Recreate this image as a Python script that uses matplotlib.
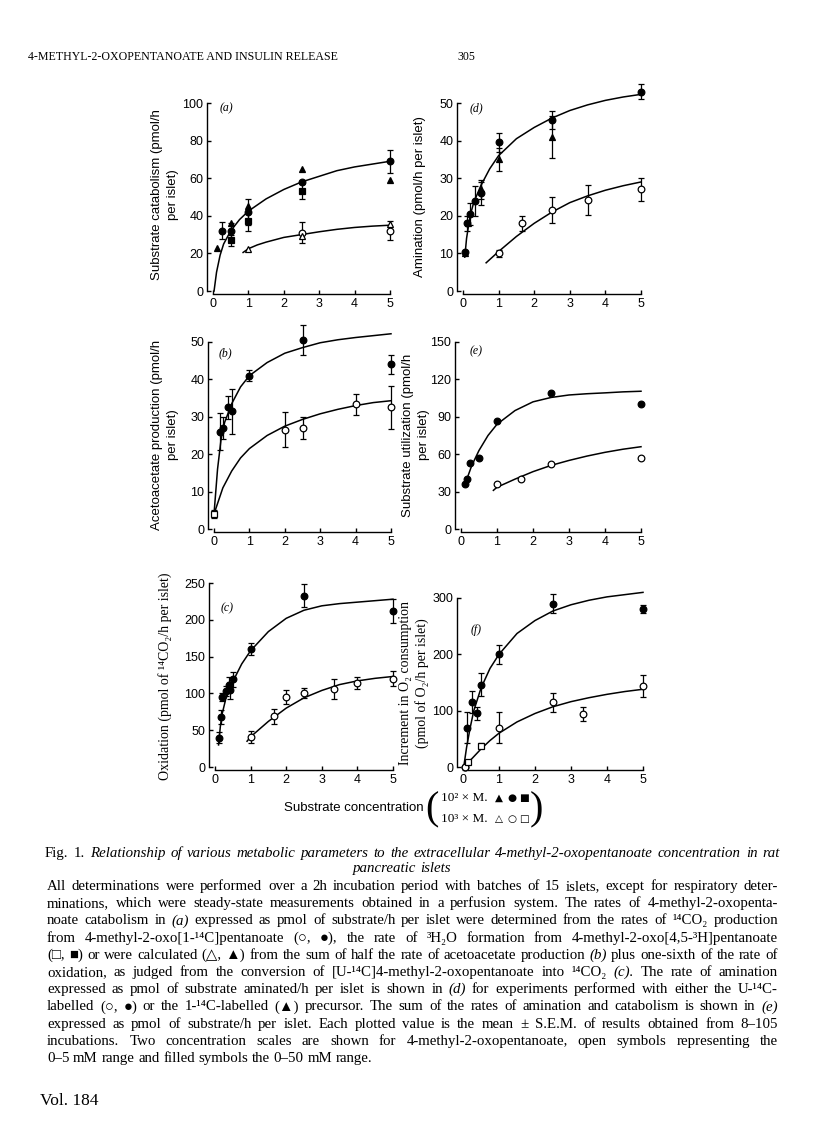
import numpy as np
import matplotlib
matplotlib.use('Agg')
import matplotlib.pyplot as plt

W, H = 816, 1136
SANS = ['Liberation Sans', 'DejaVu Sans']
SERIF = ['Liberation Serif', 'DejaVu Serif', 'DejaVu Sans']
plt.rcParams['font.family'] = SANS

# ---------------- data ----------------
# (a) substrate catabolism
a_fc_x = [0.25, 0.5, 1.0, 2.5, 5.0]
a_fc_y = [32, 32, 42, 58, 69]
a_fc_e = [4.5, 4, 7, 0, 6]
a_ft_x = [0.1, 0.5, 1.0, 2.5, 5.0]
a_ft_y = [23, 36, 45, 65, 59]
a_fs_x = [0.5, 1.0, 2.5]
a_fs_y = [27, 37, 53]
a_fs_e = [3, 5, 4]
a_oc_x = [2.5, 5.0]
a_oc_y = [31, 32]
a_oc_e = [5.5, 5]
a_ot_x = [1.0, 2.5, 5.0]
a_ot_y = [22.5, 29.5, 35.5]
a_cf_x = [0.03, 0.1, 0.2, 0.3, 0.5, 0.75, 1.0, 1.5, 2.0, 2.5, 3.0, 3.5, 4.0, 4.5, 5.0]
a_cf_y = [0, 10, 19, 25, 32, 38, 42.5, 49, 54, 58, 61, 64, 66, 67.5, 69]
a_co_x = [0.85, 1.0, 1.25, 1.5, 2.0, 2.5, 3.0, 3.5, 4.0, 4.5, 5.0]
a_co_y = [20.5, 22.5, 24.5, 26, 28.5, 30, 31.5, 32.8, 33.8, 34.5, 35]

# (d) amination
d_fc_x = [0.05, 0.1, 0.2, 0.33, 0.5, 1.0, 2.5, 5.0]
d_fc_y = [10.5, 18, 20.5, 24, 26, 39.5, 45.5, 53]
d_fc_e = [0, 2, 3, 4, 3, 2.5, 2.5, 2]
d_ft_x = [0.05, 0.15, 0.5, 1.0, 2.5]
d_ft_y = [10, 18, 27, 35, 41]
d_ft_e = [0, 0, 2.5, 3, 5.5]
d_oc_x = [1.0, 1.67, 2.5, 3.5, 5.0]
d_oc_y = [10, 18, 21.5, 24.2, 27]
d_oc_e = [1, 2, 3.5, 4, 3]
d_cf_x = [0.05, 0.1, 0.2, 0.3, 0.5, 0.75, 1.0, 1.5, 2.0, 2.5, 3.0, 3.5, 4.0, 4.5, 5.0]
d_cf_y = [9, 14, 20, 23.5, 28, 32.5, 36, 40.5, 43.5, 46, 48, 49.5, 50.7, 51.6, 52.3]
d_co_x = [0.65, 1.0, 1.5, 2.0, 2.5, 3.0, 3.5, 4.0, 4.5, 5.0]
d_co_y = [7.5, 10.5, 14.5, 18, 21, 23.5, 25.3, 26.8, 28, 29]

# (b) acetoacetate production
b_fc_x = [0.17, 0.25, 0.4, 0.5, 1.0, 2.5, 5.0]
b_fc_y = [26, 27, 32.5, 31.5, 41, 50.5, 44]
b_fc_e = [5, 3, 3, 6, 1.5, 4, 2.5]
b_oc_x = [2.0, 2.5, 4.0, 5.0]
b_oc_y = [26.5, 27, 33.3, 32.5]
b_oc_e = [4.7, 3, 2.8, 5.7]
b_os_x = [0.0]
b_os_y = [4]
b_os_e = [1]
b_cf_x = [0.0, 0.1, 0.2, 0.3, 0.5, 0.75, 1.0, 1.5, 2.0, 2.5, 3.0, 3.5, 4.0, 4.5, 5.0]
b_cf_y = [4, 16, 24, 28.5, 33.5, 38, 41, 44.5, 47, 48.5, 49.8, 50.6, 51.2, 51.7, 52.2]
b_co_x = [0.0, 0.25, 0.5, 0.75, 1.0, 1.5, 2.0, 2.5, 3.0, 3.5, 4.0, 4.5, 5.0]
b_co_y = [4, 11, 15.5, 19, 21.5, 25, 27.5, 29.3, 30.8, 32, 33, 33.8, 34.3]

# (e) substrate utilization
e_fc_x = [0.1, 0.17, 0.25, 0.5, 1.0, 2.5, 5.0]
e_fc_y = [36, 40, 53, 57, 87, 109, 100]
e_oc_x = [1.0, 1.67, 2.5, 5.0]
e_oc_y = [36, 40, 52, 57]
e_cf_x = [0.1, 0.2, 0.3, 0.5, 0.75, 1.0, 1.5, 2.0, 2.5, 3.0, 3.5, 4.0, 4.5, 5.0]
e_cf_y = [35, 43, 51, 63, 75, 84, 95, 102, 105.5, 107.5, 108.5, 109.2, 110, 110.5]
e_co_x = [0.9, 1.0, 1.5, 2.0, 2.5, 3.0, 3.5, 4.0, 4.5, 5.0]
e_co_y = [31, 33.5, 40, 46, 51, 55, 58.5, 61.5, 64, 66]

# (c) oxidation
c_fc_x = [0.1, 0.17, 0.2, 0.3, 0.4, 0.42, 0.5, 1.0, 2.5, 5.0]
c_fc_y = [40, 68, 95, 103, 112, 104, 119, 160, 233, 212]
c_fc_e = [8, 9, 6, 7, 10, 12, 10, 8, 15, 16]
c_oc_x = [1.0, 1.67, 2.0, 2.5, 3.33, 4.0, 5.0]
c_oc_y = [41, 69, 95, 101, 106, 114, 120]
c_oc_e = [8, 10, 10, 7, 14, 8, 10]
c_cf_x = [0.1, 0.15, 0.2, 0.3, 0.5, 0.75, 1.0, 1.5, 2.0, 2.5, 3.0, 3.5, 4.0, 4.5, 5.0]
c_cf_y = [30, 55, 72, 92, 116, 140, 158, 184, 202, 213, 219, 222, 224, 226, 228]
c_co_x = [0.9, 1.0, 1.5, 2.0, 2.5, 3.0, 3.5, 4.0, 4.5, 5.0]
c_co_y = [35, 41, 62, 80, 94, 104, 112, 117, 120.5, 123]

# (f) increment in O2 consumption
f_fc_x = [0.05, 0.12, 0.25, 0.38, 0.5, 1.0, 2.5, 5.0]
f_fc_y = [0, 70, 115, 95, 146, 200, 290, 280]
f_fc_e = [0, 27, 20, 12, 20, 17, 17, 7]
f_oc_x = [0.05, 1.0, 2.5, 3.33, 5.0]
f_oc_y = [0, 70, 115, 94, 144]
f_oc_e = [0, 27, 17, 12, 20]
f_os_x = [0.15, 0.5]
f_os_y = [8, 38]
f_os_e = [0, 5]
f_cf_x = [0.02, 0.1, 0.2, 0.3, 0.5, 0.75, 1.0, 1.5, 2.0, 2.5, 3.0, 3.5, 4.0, 4.5, 5.0]
f_cf_y = [0, 35, 70, 100, 140, 175, 200, 237, 260, 277, 288, 296, 302, 306, 310]
f_co_x = [0.0, 0.25, 0.5, 0.75, 1.0, 1.5, 2.0, 2.5, 3.0, 3.5, 4.0, 4.5, 5.0]
f_co_y = [0, 15, 32, 47, 60, 80, 95, 107, 116, 123, 129, 134, 138]

x_ticks = [0, 1, 2, 3, 4, 5]

header_text = "4-METHYL-2-OXOPENTANOATE AND INSULIN RELEASE"
page_no = "305"
legend_label = "Substrate concentration"
legend_scale_filled = "10\u00b2 \u00d7 M."
legend_scale_open = "10\u00b3 \u00d7 M."
legend_filled_symbols = ["\u25b2", "\u25cf", "\u25a0"]
legend_open_symbols = ["\u25b3", "\u25cb", "\u25a1"]
caption_title = ("Fig. 1. ~Relationship ~of ~various ~metabolic ~parameters ~to ~the "
                 "~extracellular ~4-methyl-2-oxopentanoate ~concentration ~in ~rat")
caption_title2 = "~pancreatic ~islets"
caption_lines = [
    "All determinations were performed over a 2h incubation period with batches of 15 islets, except for respiratory deter-",
    "minations, which were steady-state measurements obtained in a perfusion system. The rates of 4-methyl-2-oxopenta-",
    "noate catabolism in ~(a) expressed as pmol of substrate/h per islet were determined from the rates of \u00b9\u2074CO\u2082 production",
    "from 4-methyl-2-oxo[1-\u00b9\u2074C]pentanoate (\u25cb, \u25cf), the rate of \u00b3H\u2082O formation from 4-methyl-2-oxo[4,5-\u00b3H]pentanoate",
    "(\u25a1, \u25a0) or were calculated (\u25b3, \u25b2) from the sum of half the rate of acetoacetate production ~(b) plus one-sixth of the rate of",
    "oxidation, as judged from the conversion of [U-\u00b9\u2074C]4-methyl-2-oxopentanoate into \u00b9\u2074CO\u2082 ~(c). The rate of amination",
    "expressed as pmol of substrate aminated/h per islet is shown in ~(d) for experiments performed with either the U-\u00b9\u2074C-",
    "labelled (\u25cb, \u25cf) or the 1-\u00b9\u2074C-labelled (\u25b2) precursor. The sum of the rates of amination and catabolism is shown in ~(e)",
    "expressed as pmol of substrate/h per islet. Each plotted value is the mean \u00b1 S.E.M. of results obtained from 8\u2013105",
    "incubations. Two concentration scales are shown for 4-methyl-2-oxopentanoate, open symbols representing the",
    "0\u20135 mM range and filled symbols the 0\u201350 mM range.",
]

# ---------------- figure ----------------
fig = plt.figure(figsize=(W / 100, H / 100), dpi=100)
fig.patch.set_facecolor('white')
renderer = fig.canvas.get_renderer()


def fx(x):
    return x / W


def fy(y):
    return 1 - y / H


def make_ax(x0, x5, ybot, ytop, ymax, yticks):
    ax = fig.add_axes([fx(x0), fy(ybot), (x5 - x0) / W, (ybot - ytop) / H])
    ax.set_xlim(0, 5)
    ax.set_ylim(0, ymax)
    for s in ('top', 'right'):
        ax.spines[s].set_visible(False)
    ax.spines['left'].set_position(('outward', 4))
    ax.spines['bottom'].set_position(('outward', 2))
    for s in ('left', 'bottom'):
        ax.spines[s].set_linewidth(1.0)
    ax.set_xticks(x_ticks)
    ax.set_yticks(yticks)
    ax.tick_params(direction='in', length=3, width=1, labelsize=9, pad=3)
    ax.patch.set_alpha(0)
    return ax


def pts(ax, x, y, marker, filled, err=None, ms=4.8):
    x = np.asarray(x, float)
    y = np.asarray(y, float)
    if err is not None:
        e = np.asarray(err, float)
        m = e > 0
        if m.any():
            c = ax.errorbar(x[m], y[m], yerr=e[m], fmt='none', ecolor='black',
                            elinewidth=0.9, capsize=2.4, capthick=0.9, zorder=2)
            for art in c.get_children():
                art.set_clip_on(False)
    ax.plot(x, y, linestyle='none', marker=marker, ms=ms,
            mfc='black' if filled else 'white', mec='black', mew=0.9,
            clip_on=False, zorder=3)


def curve(ax, x, y):
    ax.plot(x, y, color='black', lw=1.1, clip_on=False, zorder=1)


def ylabel(x, y, s, family=SANS, size=9.5, ls=1.45):
    fig.text(fx(x), fy(y), s, rotation=90, ha='center', va='center',
             fontsize=size, family=family, multialignment='center', linespacing=ls)


def letter(x, y, s):
    fig.text(fx(x), fy(y), s, ha='left', va='center', fontsize=8.5,
             family=SERIF, style='italic')


# (a)
ax = make_ax(213, 390, 291, 103, 100, [0, 20, 40, 60, 80, 100])
curve(ax, a_cf_x, a_cf_y)
curve(ax, a_co_x, a_co_y)
pts(ax, a_fc_x, a_fc_y, 'o', True, a_fc_e)
pts(ax, a_ft_x, a_ft_y, '^', True)
pts(ax, a_fs_x, a_fs_y, 's', True, a_fs_e)
pts(ax, a_oc_x, a_oc_y, 'o', False, a_oc_e)
pts(ax, a_ot_x, a_ot_y, '^', False)
ylabel(165, 195, "Substrate catabolism (pmol/h\nper islet)")
letter(220, 108, "(a)")

# (d)
ax = make_ax(463, 641, 291, 103, 50, [0, 10, 20, 30, 40, 50])
curve(ax, d_cf_x, d_cf_y)
curve(ax, d_co_x, d_co_y)
pts(ax, d_fc_x, d_fc_y, 'o', True, d_fc_e)
pts(ax, d_ft_x, d_ft_y, '^', True, d_ft_e)
pts(ax, d_oc_x, d_oc_y, 'o', False, d_oc_e)
ylabel(420, 197, "Amination (pmol/h per islet)")
letter(470, 108, "(d)")

# (b)
ax = make_ax(214, 391, 529, 342, 50, [0, 10, 20, 30, 40, 50])
curve(ax, b_cf_x, b_cf_y)
curve(ax, b_co_x, b_co_y)
pts(ax, b_fc_x, b_fc_y, 'o', True, b_fc_e)
pts(ax, b_oc_x, b_oc_y, 'o', False, b_oc_e)
pts(ax, b_os_x, b_os_y, 's', False, b_os_e)
ylabel(165, 435, "Acetoacetate production (pmol/h\nper islet)")
letter(219, 353, "(b)")

# (e)
ax = make_ax(461, 641, 529, 342, 150, [0, 30, 60, 90, 120, 150])
curve(ax, e_cf_x, e_cf_y)
curve(ax, e_co_x, e_co_y)
pts(ax, e_fc_x, e_fc_y, 'o', True)
pts(ax, e_oc_x, e_oc_y, 'o', False)
ylabel(416, 435, "Substrate utilization (pmol/h\nper islet)", ls=1.4)
letter(470, 351, "(e)")

# (c)
ax = make_ax(215, 393, 767, 583, 250, [0, 50, 100, 150, 200, 250])
curve(ax, c_cf_x, c_cf_y)
curve(ax, c_co_x, c_co_y)
pts(ax, c_fc_x, c_fc_y, 'o', True, c_fc_e)
pts(ax, c_oc_x, c_oc_y, 'o', False, c_oc_e)
ylabel(165, 676, "Oxidation (pmol of \u00b9\u2074CO\u2082/h per islet)", family=SERIF, size=10)
letter(221, 608, "(c)")

# (f)
ax = make_ax(463, 643, 767, 598, 300, [0, 100, 200, 300])
curve(ax, f_cf_x, f_cf_y)
curve(ax, f_co_x, f_co_y)
pts(ax, f_fc_x, f_fc_y, 'o', True, f_fc_e)
pts(ax, f_oc_x, f_oc_y, 'o', False, f_oc_e)
pts(ax, f_os_x, f_os_y, 's', False, f_os_e)
ylabel(414, 683, "Increment in O\u2082 consumption\n(pmol of O\u2082/h per islet)",
       family=SERIF, size=10, ls=1.3)
letter(471, 630, "(f)")

# ---------------- legend ----------------
fig.text(fx(424), fy(808), legend_label, ha='right', va='center',
         fontsize=9.5, family=SANS)
fig.text(fx(425), fy(810), "(", ha='left', va='center', fontsize=29,
         family=SERIF, fontweight='light')
fig.text(fx(530), fy(810), ")", ha='left', va='center', fontsize=29,
         family=SERIF, fontweight='light')
fig.text(fx(441), fy(798), legend_scale_filled, ha='left', va='center', fontsize=9.5, family=SERIF)
fig.text(fx(441), fy(819), legend_scale_open, ha='left', va='center', fontsize=9.5, family=SERIF)
for sx, fs_, os_ in zip([499, 511.5, 524], legend_filled_symbols, legend_open_symbols):
    fig.text(fx(sx), fy(798), fs_, ha='center', va='center', fontsize=7.5, family=['DejaVu Sans'])
    fig.text(fx(sx), fy(819), os_, ha='center', va='center', fontsize=7.5, family=['DejaVu Sans'])

# ---------------- text helpers ----------------

def make_tokens(line):
    out = []
    for tok in line.split(' '):
        if tok.startswith('~'):
            out.append((tok[1:], 'italic'))
        else:
            out.append((tok, 'normal'))
    return out


def natural_width(tokens, size):
    tot = 0
    for s, st in tokens:
        t = fig.text(0, 0, s, fontsize=size, family=SERIF, style=st)
        tot += t.get_window_extent(renderer).width
        t.remove()
    return tot + (len(tokens) - 1) * size * 100 / 72 * 0.25


def place_line(tokens, y, x0, x1, size, justify=True):
    arts = []
    for s, st in tokens:
        arts.append(fig.text(0, fy(y), s, fontsize=size, family=SERIF, style=st,
                             ha='left', va='baseline'))
    ws = [a.get_window_extent(renderer).width for a in arts]
    n = len(arts)
    if justify and n > 1:
        gap = (x1 - x0 - sum(ws)) / (n - 1)
    else:
        gap = size * 100 / 72 * 0.25
    x = x0
    for a, w in zip(arts, ws):
        a.set_x(fx(x))
        x += w + gap


# header
fig.text(fx(28), fy(60), header_text, fontsize=8.6, family=SERIF, ha='left', va='baseline')
fig.text(fx(475), fy(60), page_no, fontsize=8.6, family=SERIF, ha='right', va='baseline')

# caption
X0, X1 = 47, 778
tok_lines = [make_tokens(l) for l in caption_lines]
nat = max(natural_width(t, 10) for t in tok_lines[:-1])
csize = 10 * (X1 - X0) * 0.985 / nat
place_line(make_tokens(caption_title), 857, 45, 780, csize, True)
place_line(make_tokens(caption_title2), 872, 353, 440, csize, False)
y0 = 890
step = 17.2
for i, t in enumerate(tok_lines):
    place_line(t, y0 + i * step, X0, X1, csize, i < len(tok_lines) - 1)

fig.text(fx(40), fy(1105), "Vol. 184", fontsize=12.5, family=SERIF, ha='left', va='baseline')

fig.savefig('out.png', dpi=100, facecolor='white')
